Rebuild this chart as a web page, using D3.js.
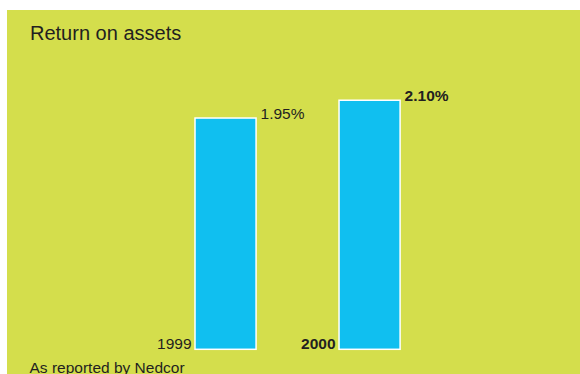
<!DOCTYPE html>
<html>
<head>
<meta charset="utf-8">
<script src="https://cdn.jsdelivr.net/npm/d3@7/dist/d3.min.js"></script>
<style>
  html, body { margin: 0; padding: 0; background: #ffffff; }
  svg { display: block; }
  text { font-family: "Liberation Sans", Arial, Helvetica, sans-serif; fill: #231f20; }
</style>
</head>
<body>
<svg id="chart" width="580" height="374"></svg>
<script>
// Return on assets, percent
const years = ["1999", "2000"];
const values = [1.95, 2.10];
const valueLabels = ["1.95%", "2.10%"];
const highlight = [false, true];

const title = "Return on assets";
const source = "As reported by Nedcor";

const svg = d3.select("#chart");

// panel background
svg.append("rect")
  .attr("x", 7).attr("y", 10)
  .attr("width", 573).attr("height", 364)
  .attr("fill", "#d4de4c");

svg.append("text")
  .attr("x", 30).attr("y", 39.5)
  .attr("font-size", 20)
  .text(title);

const x = d3.scaleBand()
  .domain(years)
  .range([166.2, 428.9])
  .paddingInner(0.576)
  .paddingOuter(0.2);

const y = d3.scaleLinear()
  .domain([0, 2.2])
  .range([349.3, 349.3 - 2.2 * 118.6]);

const data = years.map((yr, i) => ({ yr, v: values[i], label: valueLabels[i], hi: highlight[i] }));

svg.selectAll("rect.bar")
  .data(data)
  .join("rect")
  .attr("class", "bar")
  .attr("x", d => x(d.yr))
  .attr("y", d => y(d.v))
  .attr("width", x.bandwidth())
  .attr("height", d => y(0) - y(d.v))
  .attr("fill", "#10bff0")
  .attr("stroke", "#ffffff")
  .attr("stroke-width", 1.5);

// value labels at the top-right of each bar
svg.selectAll("text.val")
  .data(data)
  .join("text")
  .attr("class", "val")
  .attr("x", d => x(d.yr) + x.bandwidth() + 4.5)
  .attr("y", d => y(d.v) + 0.5)
  .attr("font-size", 15.5)
  .attr("font-weight", d => d.hi ? "bold" : "normal")
  .attr("fill", d => d.hi ? "#231f20" : "#3a3a36")
  .text(d => d.label);

// year labels at the bottom-left of each bar
svg.selectAll("text.yr")
  .data(data)
  .join("text")
  .attr("class", "yr")
  .attr("x", d => x(d.yr) - 3.5)
  .attr("y", y(0))
  .attr("text-anchor", "end")
  .attr("font-size", 15.5)
  .attr("font-weight", d => d.hi ? "bold" : "normal")
  .attr("fill", d => d.hi ? "#231f20" : "#3a3a36")
  .text(d => d.yr);

svg.append("text")
  .attr("x", 29.5).attr("y", 372.5)
  .attr("font-size", 15.5)
  .attr("fill", "#3a3a36")
  .text(source);
</script>
</body>
</html>
